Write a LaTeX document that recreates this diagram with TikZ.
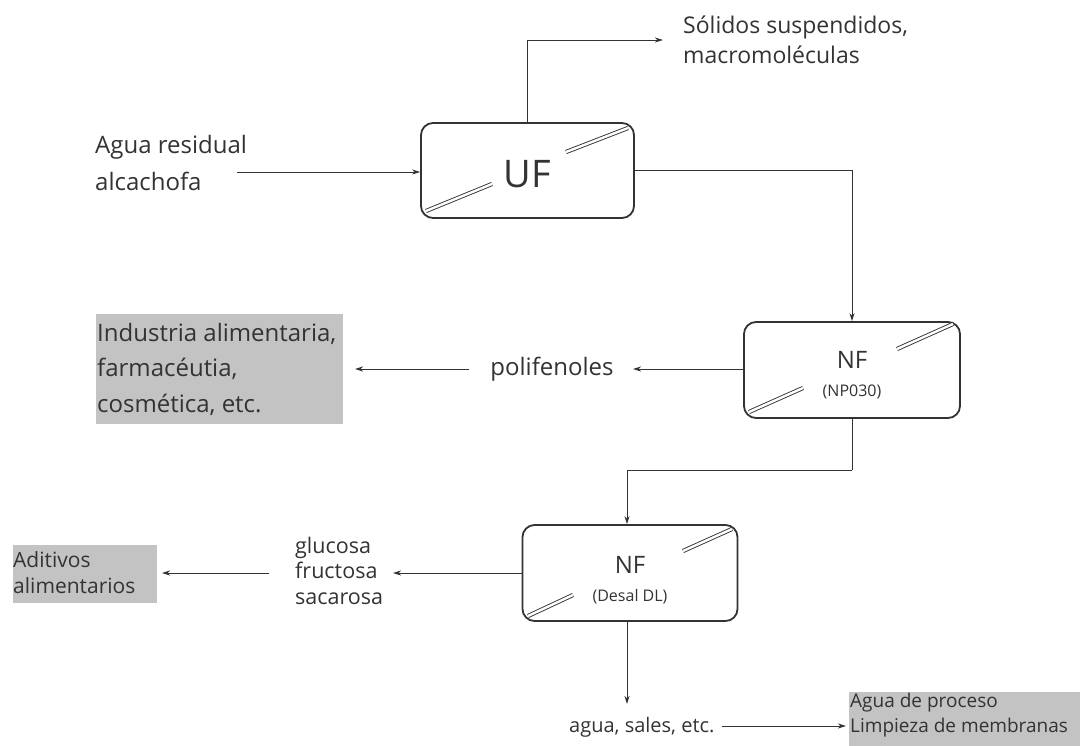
\documentclass[tikz,border=0pt]{standalone}
\usepackage{fontspec}
\setmainfont{Open Sans}
\usetikzlibrary{arrows.meta}
\definecolor{ink}{HTML}{333333}
\definecolor{greybox}{HTML}{C3C3C3}
\begin{document}
\begin{tikzpicture}[x=1pt,y=-1pt,
  unit/.style={draw=ink,line width=1.8pt,rounded corners=12pt,inner sep=0pt},
  memb/.style={draw=ink,line width=0.9pt,double=white,double distance=2.4pt},
  flow/.style={draw=ink,line width=0.9pt,-{Stealth[length=8pt,width=5pt,inset=2.5pt]}},
  plain/.style={draw=ink,line width=0.9pt},
  txt/.style={text=ink,inner sep=0pt,align=left},
  gbox/.style={fill=greybox,text=ink,inner sep=0pt,align=left,anchor=north west}]
\useasboundingbox (0,0) rectangle (1080,746);
\fill[white] (0,0) rectangle (1080,746);

% units
\node[unit,minimum width=213pt,minimum height=95pt] (UF) at (527.5,170.5) {};
\node[text=ink,font=\fontsize{38}{40}\selectfont] (UFt) at (527.5,174) {UF};
\draw[memb] (426,211) -- (492,184);
\draw[memb] (566,152) -- (628,128);

\node[unit,minimum width=216pt,minimum height=96pt] (NF1) at (852,370) {};
\node[text=ink,font=\fontsize{24}{26}\selectfont] (NF1t) at (852,360) {NF};
\node[text=ink,font=\fontsize{16}{18}\selectfont] (NF1s) at (852,392) {(NP030)};
\draw[memb] (749,412) -- (803,388);
\draw[memb] (897,349) -- (953,324);

\node[unit,minimum width=215pt,minimum height=96pt] (NF2) at (630,573) {};
\node[text=ink,font=\fontsize{24}{26}\selectfont] (NF2t) at (630,565) {NF};
\node[text=ink,font=\fontsize{16}{18}\selectfont] (NF2s) at (630,597) {(Desal DL)};
\draw[memb] (528,616) -- (573,595);
\draw[memb] (683,551) -- (732,529);

% texts
\node[txt,anchor=west,font=\fontsize{24}{37}\selectfont] (agua) at (95,163.5) {Agua residual\\alcachofa};
\node[txt,anchor=west,font=\fontsize{23}{30}\selectfont] (sol) at (683,40) {Sólidos suspendidos,\\macromoléculas};
\node[txt,anchor=center,font=\fontsize{24}{26}\selectfont] (poli) at (552,369) {polifenoles};
\node[gbox,minimum width=247pt,minimum height=110pt,text width=247pt] (ind) at (96,314) {};
\node[txt,anchor=west,font=\fontsize{24}{35.5}\selectfont] (indt) at (97,369) {Industria alimentaria,\\farmacéutia,\\cosmética, etc.};
\node[gbox,minimum width=144pt,minimum height=58pt,text width=144pt] (adit) at (13,545) {};
\node[txt,anchor=west,font=\fontsize{21}{26}\selectfont] (aditt) at (13,573) {Aditivos\\alimentarios};
\node[txt,anchor=west,font=\fontsize{21.5}{25.5}\selectfont] (sug) at (295,570.5) {glucosa\\fructosa\\sacarosa};
\node[txt,anchor=west,font=\fontsize{20}{24}\selectfont] (sales) at (569,727) {agua, sales, etc.};
\node[gbox,minimum width=232pt,minimum height=54pt,text width=232pt] (proc) at (849,692) {};
\node[txt,anchor=west,font=\fontsize{19}{25}\selectfont] (proct) at (850,715) {Agua de proceso\\Limpieza de membranas};

% coordinates
\coordinate (aguaE) at (237,172);
\coordinate (solW) at (663,40);
\coordinate (poliE) at (633,369);
\coordinate (poliW) at (469,369);
\coordinate (indE) at (355,369);
\coordinate (b1) at (852,470);
\coordinate (sugE) at (393,573);
\coordinate (sugW) at (269,573);
\coordinate (aditE) at (162,573);
\coordinate (salesN) at (627,704);
\coordinate (salesE) at (722,726);
\coordinate (procW) at (846,726);

% connectors
\draw[flow] (aguaE) -- (UF.west |- aguaE);
\draw[flow] (UF.north) |- (solW);
\draw[flow] (UF.east) -| (NF1.north);
\draw[flow] (NF1.west |- poliE) -- (poliE);
\draw[flow] (poliW) -- (indE);
\draw[plain] (NF1.south) -- (b1);
\draw[flow] (b1) -| (NF2.north -| salesN);
\draw[flow] (NF2.west |- sugE) -- (sugE);
\draw[flow] (sugW) -- (aditE);
\draw[flow] (NF2.south -| salesN) -- (salesN);
\draw[flow] (salesE) -- (procW);
\end{tikzpicture}
\end{document}
